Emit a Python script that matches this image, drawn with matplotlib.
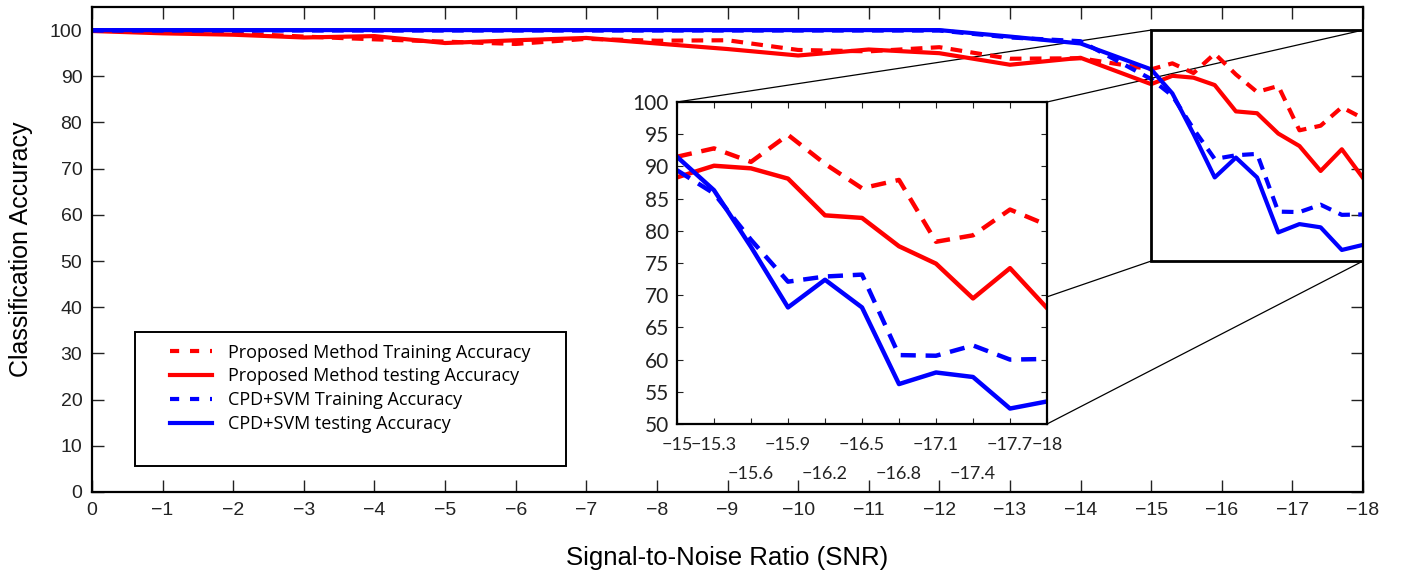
import numpy as np
import matplotlib
matplotlib.use("Agg")
import matplotlib.pyplot as plt
from matplotlib.patches import Rectangle, ConnectionPatch
from matplotlib.lines import Line2D

plt.rcParams['font.family'] = ['Liberation Sans', 'DejaVu Sans']

# SNR grid: integer steps down to -14, then 0.3 steps from -15 to -18
snr_coarse = [0, -1, -2, -3, -4, -5, -6, -7, -8, -9, -10, -11, -12, -13, -14]
snr_fine = [-15, -15.3, -15.6, -15.9, -16.2, -16.5, -16.8, -17.1, -17.4, -17.7, -18]

prop_train_coarse = [100, 99.6, 99.3, 98.6, 98.0, 97.5, 97.0, 98.1, 97.7, 97.8, 95.7, 95.4, 96.3, 93.8, 93.9]
prop_test_coarse = [99.8, 99.3, 99.0, 98.4, 98.7, 97.2, 97.8, 98.3, 97.1, 95.9, 94.5, 95.8, 95.0, 92.5, 94.0]
svm_train_coarse = [99.9, 99.9, 99.9, 99.9, 99.9, 99.9, 99.9, 99.9, 99.9, 99.9, 99.9, 99.9, 99.9, 98.4, 97.6]
svm_test_coarse = [100, 100, 100, 100, 100, 100, 100, 100, 100, 100, 100, 100, 100, 98.6, 97.1]

prop_train_fine = [91.5, 92.8, 90.7, 94.9, 90.4, 86.6, 87.9, 78.3, 79.3, 83.3, 80.9]
prop_test_fine = [88.3, 90.1, 89.7, 88.1, 82.4, 82.0, 77.6, 74.9, 69.5, 74.2, 68.0]
svm_train_fine = [89.4, 85.8, 78.6, 72.1, 72.9, 73.2, 60.7, 60.6, 62.2, 60.0, 60.1]
svm_test_fine = [91.5, 86.3, 77.5, 68.1, 72.4, 68.1, 56.2, 58.0, 57.3, 52.4, 53.5]

labels = ['Proposed Method Training Accuracy', 'Proposed Method testing Accuracy',
          'CPD+SVM Training Accuracy', 'CPD+SVM testing Accuracy']

# tick labels of the inset that sit on the lower row
inset_second_row = [-15.6, -16.2, -16.8, -17.4]

snr = snr_coarse + snr_fine
series = [prop_train_coarse + prop_train_fine, prop_test_coarse + prop_test_fine,
          svm_train_coarse + svm_train_fine, svm_test_coarse + svm_test_fine]
fine_series = [prop_train_fine, prop_test_fine, svm_train_fine, svm_test_fine]
colors = ['#ff0000', '#ff0000', '#0000ff', '#0000ff']
dashed = [True, False, True, False]

W, H = 1404, 572
fig = plt.figure(figsize=(W / 100, H / 100), dpi=100)

def px_axes(x0, y0, x1, y1):
    return fig.add_axes([x0 / W, (H - y1) / H, (x1 - x0) / W, (y1 - y0) / H])

ax = px_axes(92, 7, 1363, 492)
for y, c, d in zip(series, colors, dashed):
    ls = (0, (2.8, 2.0)) if d else '-'
    ax.plot(snr, y, color=c, lw=3, ls=ls)

ax.set_xlim(0, -18)
ax.set_ylim(0, 105)
ax.set_xticks(range(0, -19, -1))
ax.set_yticks(range(0, 101, 10))
ax.tick_params(direction='in', length=8.5, width=1, top=True, right=True,
               labelsize=14, pad=7, colors='#222222')
for s in ax.spines.values():
    s.set_linewidth(1.6)
ax.set_xlabel('Signal-to-Noise Ratio (SNR)', fontsize=18.5, labelpad=20)
ax.set_ylabel('Classification Accuracy', fontsize=18, labelpad=12)

# legend: frame drawn separately to get the wide padding of the original
ax.add_patch(Rectangle((0.0338, 0.0536), 0.339, 0.2763, transform=ax.transAxes,
                       fill=True, fc='white', ec='black', lw=1.4, zorder=4))
handles = [Line2D([], [], color=c, lw=3, ls=(0, (2.2, 2.6)) if d else '-')
           for c, d in zip(colors, dashed)]
leg = ax.legend(handles, labels, loc='upper left', bbox_to_anchor=(0.0614, 0.306),
                frameon=False, handlelength=2.3, labelspacing=0.32, borderpad=0,
                borderaxespad=0, handletextpad=0.9,
                prop={'family': 'Open Sans', 'size': 13})
leg.set_zorder(5)

# zoom rectangle
ax.add_patch(Rectangle((-15, 50), -3, 50, fill=False, lw=2, ec='black', zorder=4))

# inset
axin = px_axes(677, 102, 1047, 424)
for y, c, d in zip(fine_series, colors, dashed):
    ls = (0, (3.4, 2.2)) if d else '-'
    axin.plot(snr_fine, y, color=c, lw=3.2, ls=ls)
axin.set_xlim(-15, -18)
axin.set_ylim(50, 100)
axin.set_yticks(range(50, 101, 5))
axin.set_xticks(snr_fine)
axin.set_xticklabels([('%g' % v).replace('-', '\u2212') for v in snr_fine],
                     family='Lato', fontsize=13)
axin.tick_params(direction='in', length=4, width=0.8, top=True, right=True,
                 pad=6, colors='#222222')
axin.tick_params(axis='y', labelsize=15)
axin.tick_params(axis='x', pad=9)
for v, tick in zip(snr_fine, axin.xaxis.get_major_ticks()):
    if v in inset_second_row:
        tick.set_pad(30)
for lbl in axin.get_yticklabels():
    lbl.set_family('Lato')
for s in axin.spines.values():
    s.set_linewidth(1.6)

# connector lines from the zoom rectangle corners to the inset corners
for (xa, ya), (xb, yb) in [((-15, 100), (0, 1)), ((-18, 100), (1, 1)),
                           ((-15, 50), (0, 0)), ((-18, 50), (1, 0))]:
    cp = ConnectionPatch(xyA=(xa, ya), coordsA=ax.transData,
                         xyB=(xb, yb), coordsB=axin.transAxes,
                         color='black', lw=0.9)
    ax.add_artist(cp)

fig.savefig('out.png', dpi=100)
